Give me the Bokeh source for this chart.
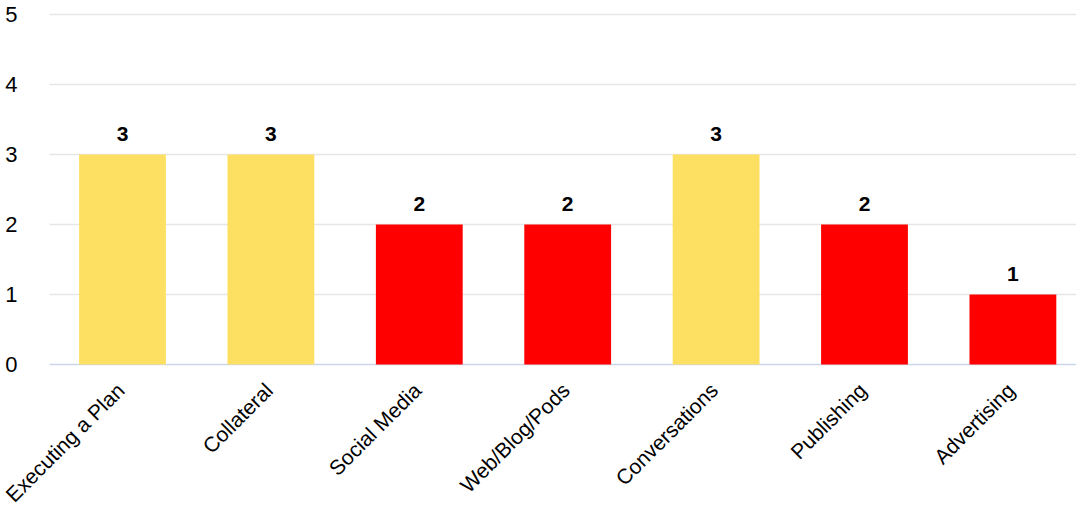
from bokeh.plotting import figure
from bokeh.models import ColumnDataSource, FixedTicker, Range1d
from bokeh.core.properties import value
from bokeh.embed import file_html
from bokeh.resources import INLINE

categories = ["Executing a Plan", "Collateral", "Social Media", "Web/Blog/Pods",
              "Conversations", "Publishing", "Advertising"]
values = [3, 3, 2, 2, 3, 2, 1]
bar_colors = ["#FDE062", "#FDE062", "#FF0000", "#FF0000", "#FDE062", "#FF0000", "#FF0000"]
y_ticks = [0, 1, 2, 3, 4, 5]

X_LEFT, X_RIGHT = -0.4919, 6.4286

xs = list(range(len(categories)))
src = ColumnDataSource(dict(x=xs, top=values, color=bar_colors, zero=[0] * len(xs),
                            cat=categories, label=[str(v) for v in values]))
grid_src = ColumnDataSource(dict(y=y_ticks, x0=[X_LEFT] * len(y_ticks),
                                 x1=[X_RIGHT] * len(y_ticks),
                                 color=["#ccd6eb"] + ["#e6e6e6"] * (len(y_ticks) - 1)))

p = figure(width=1076, height=506, output_backend="svg", toolbar_location=None,
           x_axis_location=None,
           x_range=Range1d(-0.8221, X_RIGHT), y_range=Range1d(-2.0286, 5.2))
p.min_border_left = 0
p.min_border_right = 0
p.min_border_top = 0
p.min_border_bottom = 0
p.outline_line_color = None
p.background_fill_color = "white"
p.border_fill_color = "white"
p.grid.visible = False

p.segment(x0="x0", x1="x1", y0="y", y1="y", line_color="color", line_width=1.5,
          source=grid_src)

p.vbar(x="x", top="top", bottom=0, width=0.585, fill_color="color",
       line_color=None, source=src)
p.text(x="x", y="top", text="label", source=src, text_align="center",
       text_baseline="alphabetic", y_offset=-20,
       text_font=value("Liberation Sans"), text_font_size="21px",
       text_font_style="bold", text_color="#000000")
p.text(x="x", y="zero", text="cat", source=src, angle=0.785398,
       text_align="right", text_baseline="top", x_offset=-10, y_offset=14,
       text_font=value("Liberation Sans"), text_font_size="21px",
       text_color="#000000")

p.yaxis.fixed_location = X_LEFT
p.yaxis.ticker = FixedTicker(ticks=y_ticks)
p.yaxis.axis_line_color = None
p.yaxis.major_tick_line_color = None
p.yaxis.minor_tick_line_color = None
p.yaxis.major_label_standoff = 26
p.yaxis.major_label_text_font = "Liberation Sans"
p.yaxis.major_label_text_font_size = "22px"
p.yaxis.major_label_text_color = "#000000"

open("out.html", "w").write(file_html(p, INLINE))
